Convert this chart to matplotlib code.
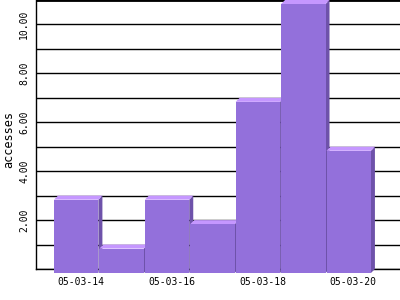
import matplotlib
matplotlib.use("Agg")
import matplotlib.pyplot as plt
from matplotlib.patches import Polygon

# data
days = ['05-03-14', '05-03-15', '05-03-16', '05-03-17',
        '05-03-18', '05-03-19', '05-03-20']
accesses = [3, 1, 3, 2, 7, 11, 5]
label_days = [0, 2, 4, 6]
label_vals = [2, 4, 6, 8, 10]

front_col = '#9370db'
top_col = '#c597ff'
side_col = '#6e52aa'

fig = plt.figure(figsize=(4, 3), dpi=100)
ax = fig.add_axes([0.09, 0.1033, 0.91, 0.8967])
ax.set_xlim(-0.984, 7.03)
ax.set_ylim(0, 11)

# depth of the fake 3d bars (about 4 px)
dx = 4 / 45.43
dy = 4 / 24.45
w = 0.978

for i, v in enumerate(accesses):
    x0 = i - 0.5
    x1 = x0 + w
    side = Polygon([(x1 - dx, -dy), (x1, 0), (x1, v), (x1 - dx, v - dy)],
                   closed=True, facecolor=side_col, edgecolor='none',
                   zorder=3, clip_on=False)
    top = Polygon([(x0 - dx, v - dy), (x1 - dx, v - dy), (x1, v), (x0, v)],
                  closed=True, facecolor=top_col, edgecolor='none',
                  zorder=3, clip_on=False)
    front = Polygon([(x0 - dx, -dy), (x1 - dx, -dy), (x1 - dx, v - dy), (x0 - dx, v - dy)],
                    closed=True, facecolor=front_col, edgecolor='none',
                    zorder=3, clip_on=False)
    ax.add_patch(side)
    ax.add_patch(top)
    ax.add_patch(front)

# grid lines for every unit
ax.set_yticks(range(0, 12), minor=True)
ax.grid(True, which='both', axis='y', color='black', linewidth=1.0, zorder=0)
ax.set_axisbelow(True)
ax.axhline(11, color='black', linewidth=2.0, zorder=0)

ax.set_yticks(label_vals)
ax.set_yticklabels(['%.2f' % t for t in label_vals], rotation=90,
                   va='center', family='DejaVu Sans Mono', fontsize=7)
ax.set_xticks(label_days)
ax.set_xticklabels([days[i] for i in label_days],
                   family='DejaVu Sans Mono', fontsize=7)
ax.tick_params(axis='both', which='both', length=0)
ax.tick_params(axis='y', pad=5)
ax.tick_params(axis='x', pad=6)

ax.set_ylabel('accesses', family='DejaVu Sans Mono', fontsize=8.5,
              va='center')
ax.yaxis.set_label_coords(-0.075, 0.48)

for s in ['top', 'right']:
    ax.spines[s].set_visible(False)
ax.spines['left'].set_linewidth(1.0)
ax.spines['bottom'].set_linewidth(1.0)
ax.spines['bottom'].set_zorder(1)

fig.savefig('out.png', dpi=100)
